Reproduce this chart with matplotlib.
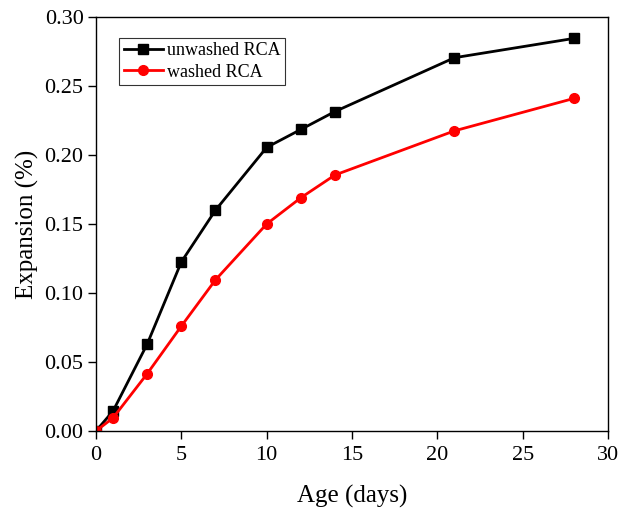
import matplotlib
matplotlib.use("Agg")
import matplotlib.pyplot as plt

# data
age = [0, 1, 3, 5, 7, 10, 12, 14, 21, 28]
unwashed = [0.0, 0.0145, 0.063, 0.1225, 0.160, 0.2055, 0.2185, 0.2315, 0.2705, 0.2845]
washed = [0.0, 0.0095, 0.0415, 0.076, 0.1095, 0.150, 0.169, 0.1855, 0.2175, 0.241]

plt.rcParams['font.family'] = ['Liberation Serif', 'DejaVu Serif']

fig = plt.figure(figsize=(6.21, 5.11), dpi=100)
ax = fig.add_axes([0.1546, 0.1566, 0.8245, 0.8101])

ax.plot(age, unwashed, color='black', lw=2, marker='s', ms=6.5, label='unwashed RCA')
ax.plot(age, washed, color='red', lw=2, marker='o', ms=7, label='washed RCA')

ax.set_xlim(0, 30)
ax.set_ylim(0, 0.30)
ax.set_xticks(range(0, 31, 5))
ax.set_yticks([0, 0.05, 0.10, 0.15, 0.20, 0.25, 0.30])
ax.set_yticklabels(['%.2f' % v for v in ax.get_yticks()])
ax.tick_params(direction='out', length=5.5, width=1, labelsize=16)
ax.tick_params(axis='x', pad=5)
ax.tick_params(axis='y', pad=3.5)
for s in ax.spines.values():
    s.set_linewidth(1)

ax.set_xlabel('Age (days)', fontsize=18, labelpad=15)
ax.set_ylabel('Expansion (%)', fontsize=18, labelpad=4)

leg = ax.legend(loc='upper left', bbox_to_anchor=(0.045, 0.95), borderaxespad=0,
                fontsize=13, fancybox=False, edgecolor='black', handlelength=2.2,
                handletextpad=0.2, borderpad=0.25, labelspacing=0.25)
leg.get_frame().set_linewidth(0.8)

fig.savefig('out.png', dpi=100)
